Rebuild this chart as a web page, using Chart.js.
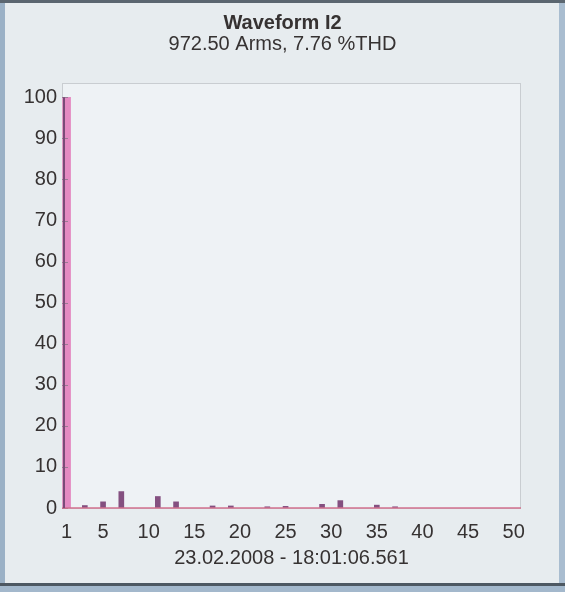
<!DOCTYPE html>
<html>
<head>
<meta charset="utf-8">
<title>Waveform I2</title>
<script src="https://cdn.jsdelivr.net/npm/chart.js@4/dist/chart.umd.min.js"></script>
<style>
  html, body { margin: 0; padding: 0; background: #e6ebef; }
  canvas { display: block; }
</style>
</head>
<body>
<canvas id="chart" width="565" height="592"></canvas>
<script>
// Harmonic spectrum of current I2 (% of fundamental)
const harmonics = [1, 3, 5, 7, 11, 13, 17, 19, 23, 25, 29, 31, 35, 37];
const percentOfFundamental = [100, 0.6, 1.5, 4.0, 2.8, 1.5, 0.5, 0.5, 0.3, 0.4, 0.9, 1.8, 0.7, 0.3];
const xTickValues = [1, 5, 10, 15, 20, 25, 30, 35, 40, 45, 50];
const yTickValues = [0, 10, 20, 30, 40, 50, 60, 70, 80, 90, 100];
const titleText = 'Waveform I2';
const subtitleText = '972.50 Arms, 7.76 %THD';
const timestampText = '23.02.2008 - 18:01:06.561';

const textColor = '#363232';
const fontFamily = '"Liberation Sans", Arial, sans-serif';

const points = harmonics.map((h, i) => ({ x: h, y: percentOfFundamental[i] }));
const fundamental = points.filter(p => p.x === 1);
const higherOrders = points.filter(p => p.x !== 1);

// Window background, plot panel, frame and axis decorations
const panelPlugin = {
  id: 'panel',
  beforeDraw(chart) {
    const { ctx, chartArea: a, width, height } = chart;
    ctx.save();
    ctx.fillStyle = '#e7ecef';
    ctx.fillRect(0, 0, width, height);
    // window edges
    ctx.fillStyle = '#9bb1c6';
    ctx.fillRect(0, 0, 5, height);
    ctx.fillStyle = '#a9bdd0';
    ctx.fillRect(width - 6, 0, 6, height);
    ctx.fillStyle = '#5b6670';
    ctx.fillRect(0, 0, width, 3);
    ctx.fillStyle = '#4d5862';
    ctx.fillRect(0, height - 9, width, 3);
    ctx.fillStyle = '#a3b8cc';
    ctx.fillRect(0, height - 6, width, 6);
    // plot panel
    ctx.fillStyle = '#eef2f5';
    ctx.fillRect(a.left, a.top, a.right - a.left, a.bottom - a.top);
    ctx.strokeStyle = '#c9cdd1';
    ctx.lineWidth = 1;
    ctx.strokeRect(a.left + 0.5, a.top + 0.5, a.right - a.left - 1, a.bottom - a.top);
    ctx.restore();
  },
  afterDatasetsDraw(chart) {
    const { ctx, chartArea: a, scales } = chart;
    ctx.save();
    // inward tick marks on the value axis
    ctx.strokeStyle = '#9a7a94';
    ctx.lineWidth = 1;
    yTickValues.forEach(v => {
      const y = Math.round(scales.y.getPixelForValue(v)) + 0.5;
      ctx.beginPath();
      ctx.moveTo(a.left, y);
      ctx.lineTo(a.left + 6, y);
      ctx.stroke();
    });
    // baseline
    ctx.strokeStyle = '#d2708e';
    ctx.lineWidth = 1.5;
    const y0 = scales.y.getPixelForValue(0);
    ctx.beginPath();
    ctx.moveTo(a.left, y0);
    ctx.lineTo(a.right, y0);
    ctx.stroke();
    // value axis line
    ctx.strokeStyle = '#7a4a78';
    ctx.lineWidth = 2;
    ctx.beginPath();
    ctx.moveTo(a.left + 2, scales.y.getPixelForValue(100));
    ctx.lineTo(a.left + 2, y0);
    ctx.stroke();
    ctx.restore();
  }
};

new Chart(document.getElementById('chart'), {
  type: 'bar',
  data: {
    datasets: [
      { data: fundamental, backgroundColor: '#e48ac2', borderWidth: 0, barThickness: 8, grouped: false },
      { data: higherOrders, backgroundColor: '#845080', borderWidth: 0, barThickness: 5, grouped: false }
    ]
  },
  options: {
    responsive: false,
    animation: false,
    events: [],
    layout: { padding: { left: 10, right: 10, top: 0, bottom: 10 } },
    plugins: {
      legend: { display: false },
      tooltip: { enabled: false },
      title: {
        display: true,
        text: titleText,
        color: textColor,
        font: { family: fontFamily, size: 20, weight: 'bold', lineHeight: 1.0 },
        padding: { top: 13, bottom: 0 }
      },
      subtitle: {
        display: true,
        text: subtitleText,
        color: textColor,
        font: { family: fontFamily, size: 20, lineHeight: 1.0 },
        padding: { top: 1, bottom: 29 }
      }
    },
    scales: {
      x: {
        type: 'linear',
        min: 0.5,
        max: 50.8,
        offset: false,
        grid: { display: false, drawTicks: false },
        border: { display: false },
        afterBuildTicks(scale) { scale.ticks = xTickValues.map(v => ({ value: v })); },
        afterFit(scale) { scale.height = 74; },
        ticks: {
          color: textColor,
          font: { family: fontFamily, size: 20 },
          padding: 12,
          autoSkip: false,
          maxRotation: 0
        },
        title: {
          display: true,
          text: timestampText,
          color: textColor,
          font: { family: fontFamily, size: 20 },
          padding: { top: 0, bottom: 12 }
        }
      },
      y: {
        min: 0,
        max: 103.5,
        grid: { display: false, drawTicks: false },
        border: { display: false },
        afterBuildTicks(scale) { scale.ticks = yTickValues.map(v => ({ value: v })); },
        afterFit(scale) { scale.width = 52; },
        ticks: {
          color: textColor,
          font: { family: fontFamily, size: 20 },
          padding: 5
        }
      },
      // empty right-hand gutter so the plot panel ends short of the window edge
      gutter: {
        position: 'right',
        min: 0,
        max: 103.5,
        grid: { display: false, drawTicks: false },
        border: { display: false },
        ticks: { display: false },
        afterFit(scale) { scale.width = 34; }
      }
    }
  },
  plugins: [panelPlugin]
});
</script>
</body>
</html>
